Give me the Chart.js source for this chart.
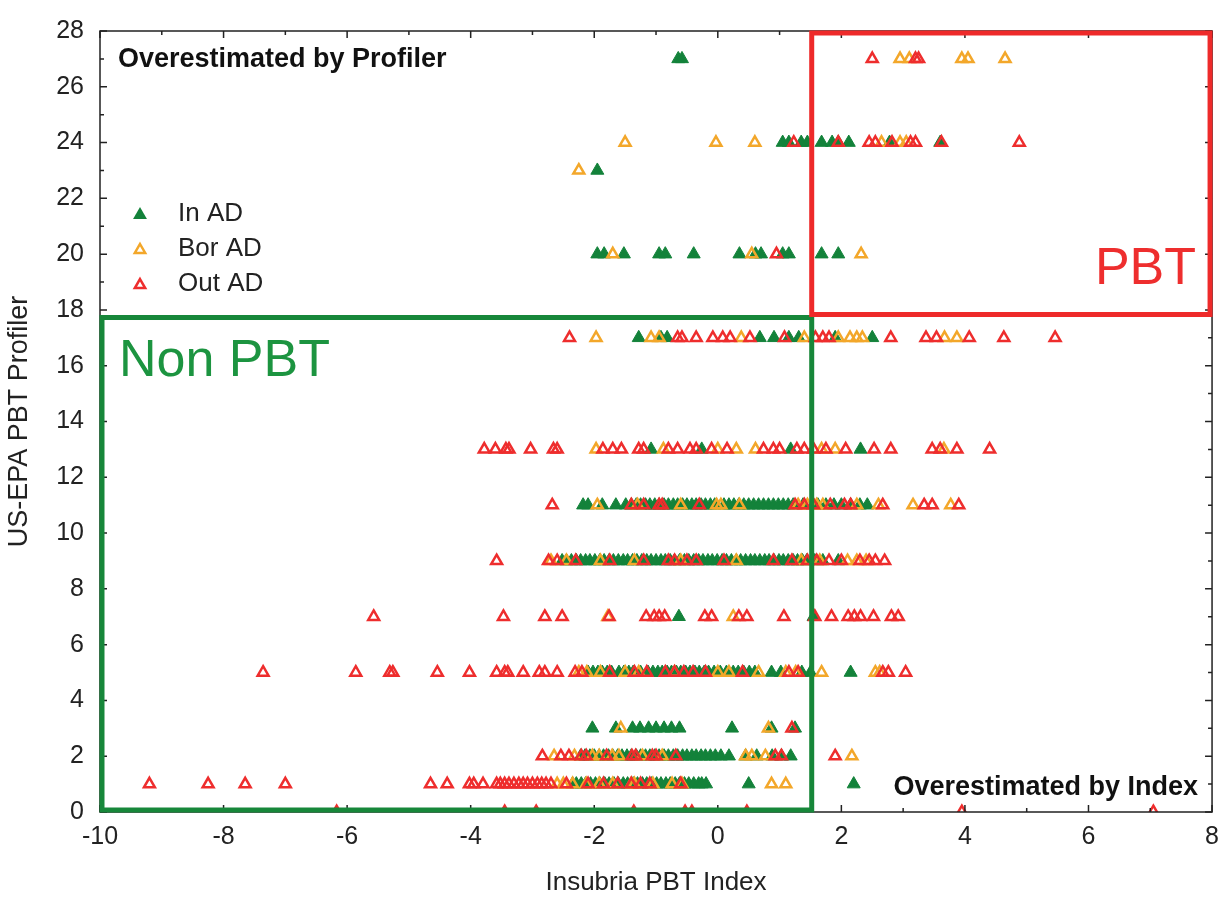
<!DOCTYPE html>
<html>
<head>
<meta charset="utf-8">
<title>Insubria PBT Index vs US-EPA PBT Profiler</title>
<script src="https://cdn.jsdelivr.net/npm/chart.js@4.4.0/dist/chart.umd.min.js"></script>
<style>
  html, body { margin: 0; padding: 0; background: #fff; }
  #wrap { width: 1229px; height: 900px; }
</style>
</head>
<body>
<div id="wrap"><canvas id="pbtChart"></canvas></div>
<script>
// profiler score levels (one row of points per level)
const levels = [0, 1, 2, 3, 5, 7, 9, 11, 13, 17, 20, 23, 24, 27];

// Insubria index values, one row per level above
const inAdX = [
    [],
    [-2.35, -2.29, -2.21, -2.14, -2.06, -1.98, -1.91, -1.83, -1.76, -1.68, -1.61, -1.53, -1.46, -1.37, -1.3, -1.22, -1.15, -1.07, -0.99, -0.92, -0.84, -0.77, -0.69, -0.62, -0.54, -0.47, -0.39, -0.31, -0.26, -0.19, 0.5, 2.2],
    [-2.22, -2.15, -2.07, -2.0, -1.92, -1.85, -1.77, -1.7, -1.62, -1.55, -1.47, -1.4, -1.32, -1.25, -1.17, -1.1, -1.02, -0.95, -0.87, -0.8, -0.72, -0.65, -0.57, -0.5, -0.42, -0.35, -0.27, -0.2, -0.12, -0.04, 0.05, 0.18, 0.45, 0.63, 0.88, 1.03, 1.18],
    [-2.03, -1.65, -1.38, -1.26, -1.12, -1.0, -0.87, -0.75, -0.62, 0.23, 0.87, 1.25],
    [-2.1, -2.02, -1.94, -1.87, -1.79, -1.72, -1.6, -1.52, -1.44, -1.37, -1.25, -1.13, -1.05, -0.97, -0.9, -0.82, -0.75, -0.67, -0.6, -0.52, -0.45, -0.37, -0.3, -0.22, -0.15, -0.06, 0.04, 0.14, 0.25, 0.33, 0.42, 0.51, 0.6, 0.87, 1.02, 1.36, 1.5, 2.15],
    [-0.63, 1.55],
    [-2.52, -2.45, -2.37, -2.29, -2.22, -2.14, -2.07, -1.99, -1.91, -1.84, -1.76, -1.69, -1.61, -1.53, -1.46, -1.38, -1.31, -1.23, -1.15, -1.08, -1.0, -0.92, -0.85, -0.77, -0.7, -0.62, -0.54, -0.47, -0.39, -0.31, -0.24, -0.16, -0.09, -0.01, 0.07, 0.14, 0.22, 0.3, 0.37, 0.45, 0.53, 0.6, 0.68, 0.76, 0.83, 0.91, 0.99, 1.06, 1.14, 1.22, 1.29, 1.37, 1.44, 1.57, 1.7, 1.95],
    [-2.18, -2.1, -1.87, -1.65, -1.49, -1.4, -1.32, -1.25, -1.17, -1.1, -1.02, -0.95, -0.87, -0.8, -0.72, -0.65, -0.57, -0.5, -0.42, -0.35, -0.27, -0.2, -0.12, -0.05, 0.1, 0.18, 0.26, 0.34, 0.42, 0.5, 0.58, 0.66, 0.74, 0.82, 0.9, 0.98, 1.06, 1.14, 1.22, 1.38, 1.62, 1.75, 1.88, 2.0, 2.15, 2.3, 2.42],
    [-1.08, -0.26, 1.18, 2.31],
    [-1.28, -0.92, -0.82, 0.68, 0.91, 1.15, 1.31, 1.9, 2.5],
    [-1.95, -1.84, -1.52, -0.95, -0.85, -0.39, 0.35, 0.61, 0.7, 1.05, 1.15, 1.68, 1.95],
    [-1.95],
    [1.05, 1.15, 1.35, 1.45, 1.68, 1.85, 1.95, 2.12, 2.78, 3.6],
    [-0.64, -0.58]
];

const borAdX = [
    [],
    [-2.6, -2.5, -2.35, -2.13, -1.92, -1.7, -1.4, -1.35, -1.05, -0.74, -0.58, 0.87, 1.1],
    [-2.65, -2.32, -2.03, -1.92, -1.71, -1.6, -1.22, -0.9, 0.45, 0.55, 0.77, 2.17],
    [-1.57, 0.82],
    [-2.25, -2.12, -1.9, -1.5, -1.28, -0.7, 0.0, 0.18, 0.66, 1.1, 1.26, 1.68, 2.55, 2.62],
    [-1.78, 0.25],
    [-2.7, -2.45, -1.9, -1.35, -0.6, 0.3, 1.35, 1.65, 2.1, 2.25, 2.4],
    [-1.95, -1.3, -0.6, -0.02, 0.05, 0.35, 1.3, 1.45, 1.6, 1.7, 2.25, 2.6, 3.16, 3.77],
    [-1.97, -0.88, 0.0, 0.3, 0.61, 1.68, 1.9, 3.66],
    [-1.97, -1.08, -0.95, 0.38, 1.4, 1.95, 2.14, 2.25, 2.34, 3.67, 3.87],
    [-1.7, 0.55, 2.32],
    [-2.25],
    [-1.5, -0.03, 0.6, 2.65, 2.95, 3.05],
    [2.95, 3.1, 3.95, 4.05, 4.65]
];

const outAdX = [
    [-6.17, -3.45, -2.94, -1.36, -0.53, -0.42, 0.47, 3.95, 7.05],
    [-9.2, -8.25, -7.65, -7.0, -4.65, -4.38, -4.02, -3.95, -3.8, -3.58, -3.52, -3.45, -3.38, -3.3, -3.22, -3.15, -3.08, -3.0, -2.92, -2.85, -2.78, -2.7, -2.45, -2.1, -1.85, -1.62, -1.4, -1.25, -1.1, -0.6],
    [-2.84, -2.54, -2.41, -2.21, -2.13, -1.8, -1.39, -1.33, -1.06, -1.0, -0.68, 0.93, 1.03, 1.9],
    [1.2],
    [-7.36, -5.86, -5.31, -5.26, -4.54, -4.02, -3.58, -3.45, -3.4, -3.15, -2.89, -2.8, -2.6, -2.31, -2.2, -1.75, -1.35, -1.15, -0.85, -0.7, -0.55, -0.4, -0.2, 0.4, 1.15, 1.3, 2.67, 2.76, 3.04],
    [-5.57, -3.47, -2.8, -2.52, -1.76, -1.16, -1.03, -0.95, -0.86, -0.21, -0.1, 0.34, 0.47, 1.07, 1.57, 1.84, 2.11, 2.21, 2.31, 2.52, 2.81, 2.92],
    [-3.58, -2.74, -2.6, -2.3, -1.75, -1.2, -0.8, -0.7, -0.5, -0.35, 0.1, 0.9, 1.2, 1.45, 1.6, 1.8, 2.0, 2.3, 2.45, 2.55, 2.7],
    [-2.68, -1.4, -1.2, -0.95, -0.9, -0.3, 1.25, 1.4, 1.55, 1.82, 2.05, 2.15, 2.67, 3.34, 3.47, 3.9],
    [-3.78, -3.6, -3.43, -3.38, -3.03, -2.66, -2.6, -1.86, -1.7, -1.56, -1.28, -1.2, -0.8, -0.65, -0.45, -0.35, -0.1, 0.15, 0.74, 0.9, 1.0, 1.28, 1.4, 1.55, 1.75, 2.07, 2.53, 2.8, 3.47, 3.6, 3.87, 4.4],
    [-2.4, -0.65, -0.58, -0.35, -0.08, 0.08, 0.2, 0.52, 1.08, 1.58, 1.7, 1.8, 2.8, 3.37, 3.54, 4.07, 4.63, 5.46],
    [0.95],
    [],
    [1.23, 1.95, 2.45, 2.55, 2.82, 3.12, 3.2, 3.62, 4.88],
    [2.5, 3.2, 3.25]
];

const seriesNames = ['In AD', 'Bor AD', 'Out AD'];
const seriesColors = ['#13823a', '#f3a72a', '#ee2d2d'];

// axis ranges and PBT cut-offs
const xMin = -10, xMax = 8, xStep = 2;
const yMin = 0, yMax = 28, yStep = 2;
const indexCut = 1.52;
const profilerCut = 17.8;

function toPoints(rows) {
    const pts = [];
    levels.forEach(function(y, i) {
        rows[i].forEach(function(x) { pts.push({ x: x, y: y }); });
    });
    return pts;
}

function triangle(ctx, x, y, r) {
    ctx.beginPath();
    ctx.moveTo(x, y - r);
    ctx.lineTo(x + r * 0.866, y + r * 0.5);
    ctx.lineTo(x - r * 0.866, y + r * 0.5);
    ctx.closePath();
}

const overlay = {
    id: 'overlay',
    afterDatasetsDraw(chart) {
        const ctx = chart.ctx;
        const a = chart.chartArea;
        const xs = chart.scales.x, ys = chart.scales.y;
        ctx.save();

        // frame with inward ticks
        ctx.strokeStyle = '#222';
        ctx.lineWidth = 1.5;
        ctx.strokeRect(a.left, a.top, a.right - a.left, a.bottom - a.top);
        ctx.beginPath();
        for (let v = xMin; v <= xMax; v++) {
            const px = xs.getPixelForValue(v);
            const len = v % 2 === 0 ? 7 : 4;
            ctx.moveTo(px, a.bottom); ctx.lineTo(px, a.bottom - len);
            ctx.moveTo(px, a.top); ctx.lineTo(px, a.top + len);
        }
        for (let v = yMin; v <= yMax; v++) {
            const py = ys.getPixelForValue(v);
            const len = v % 2 === 0 ? 7 : 4;
            ctx.moveTo(a.left, py); ctx.lineTo(a.left + len, py);
            ctx.moveTo(a.right, py); ctx.lineTo(a.right - len, py);
        }
        ctx.stroke();

        // Non PBT and PBT boxes
        const cx = xs.getPixelForValue(indexCut);
        const cy = ys.getPixelForValue(profilerCut);
        ctx.lineWidth = 5;
        ctx.strokeStyle = '#17873a';
        ctx.strokeRect(a.left + 2, cy + 2, cx - a.left - 2, a.bottom - cy - 4);
        ctx.strokeStyle = '#ee2a2a';
        ctx.strokeRect(cx, a.top + 2, a.right - cx - 2, cy - a.top - 3);

        // region labels
        ctx.textBaseline = 'middle';
        ctx.fillStyle = '#111';
        ctx.font = 'bold 27px "Liberation Sans", Arial, sans-serif';
        ctx.textAlign = 'left';
        ctx.fillText('Overestimated by Profiler', a.left + 18, a.top + 29);
        ctx.textAlign = 'right';
        ctx.fillText('Overestimated by Index', a.right - 14, ys.getPixelForValue(1) + 3);

        ctx.font = '52px "Liberation Sans", Arial, sans-serif';
        ctx.fillStyle = '#1c9440';
        ctx.textAlign = 'left';
        ctx.fillText('Non PBT', a.left + 19, cy + 46);
        ctx.fillStyle = '#ee2e2e';
        ctx.textAlign = 'right';
        ctx.fillText('PBT', a.right - 16, cy - 46);

        // legend
        ctx.font = '26px "Liberation Sans", Arial, sans-serif';
        ctx.textAlign = 'left';
        seriesNames.forEach(function(name, i) {
            const ly = a.top + 183 + i * 35;
            if (i === 0) {
                triangle(ctx, a.left + 40, ly + 1, 8);
                ctx.fillStyle = seriesColors[i];
                ctx.fill();
            } else {
                triangle(ctx, a.left + 40, ly + 1, 6);
                ctx.strokeStyle = seriesColors[i];
                ctx.lineWidth = 2.5;
                ctx.stroke();
            }
            ctx.fillStyle = '#222';
            ctx.fillText(name, a.left + 78, ly);
        });
        ctx.restore();
    }
};

function init() {
    const ctx = document.getElementById('pbtChart');
    if (!ctx) return;

    Chart.defaults.font.family = '"Liberation Sans", Arial, sans-serif';
    Chart.defaults.color = '#222';

    new Chart(ctx, {
        type: 'scatter',
        data: {
            datasets: [{
                label: seriesNames[0],
                data: toPoints(inAdX),
                pointStyle: 'triangle',
                pointRadius: 7.5,
                backgroundColor: seriesColors[0],
                borderColor: seriesColors[0],
                borderWidth: 1,
                order: 3
            }, {
                label: seriesNames[1],
                data: toPoints(borAdX),
                pointStyle: 'triangle',
                pointRadius: 6.3,
                backgroundColor: 'rgba(255,255,255,0)',
                borderColor: seriesColors[1],
                borderWidth: 2.5,
                order: 2
            }, {
                label: seriesNames[2],
                data: toPoints(outAdX),
                pointStyle: 'triangle',
                pointRadius: 6.3,
                backgroundColor: 'rgba(255,255,255,0)',
                borderColor: seriesColors[2],
                borderWidth: 2.5,
                order: 1
            }]
        },
        options: {
            responsive: true,
            maintainAspectRatio: false,
            animation: false,
            layout: { padding: { top: 30, right: 14, left: 0, bottom: 0 } },
            plugins: {
                legend: { display: false },
                tooltip: { enabled: false }
            },
            scales: {
                x: {
                    type: 'linear',
                    min: xMin,
                    max: xMax,
                    ticks: { stepSize: xStep, padding: 10, font: { size: 25 } },
                    grid: { display: false, drawTicks: false },
                    border: { display: false },
                    title: { display: true, text: 'Insubria PBT Index', font: { size: 26 }, padding: { bottom: 2 } },
                    afterFit: function(scale) { scale.height = 88; }
                },
                y: {
                    type: 'linear',
                    min: yMin,
                    max: yMax,
                    ticks: { stepSize: yStep, padding: 16, font: { size: 25 } },
                    grid: { display: false, drawTicks: false },
                    border: { display: false },
                    title: { display: true, text: 'US-EPA PBT Profiler', font: { size: 27 }, padding: { top: 3 } },
                    afterFit: function(scale) { scale.width = 100; }
                }
            }
        },
        plugins: [overlay]
    });
}

init();
</script>
</body>
</html>
